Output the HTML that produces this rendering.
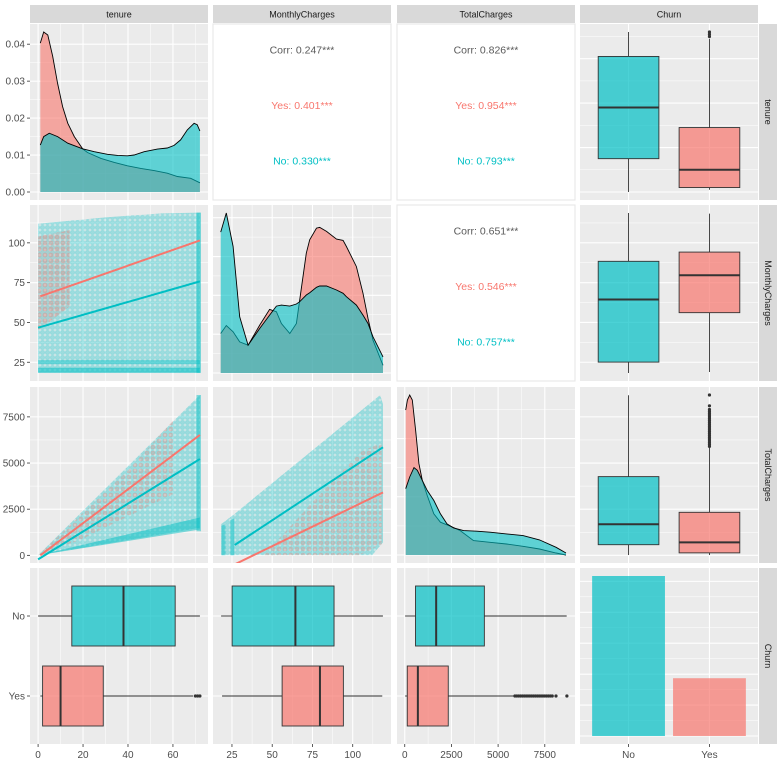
<!DOCTYPE html>
<html><head><meta charset="utf-8"><style>
html,body{margin:0;padding:0;background:#fff;}
svg{display:block;font-family:"Liberation Sans",Arial,sans-serif;}
</style></head><body>
<svg id="chart" width="783" height="765" viewBox="0 0 783 765" xmlns="http://www.w3.org/2000/svg">
<defs>
<pattern id="dotsT" width="5" height="5" patternUnits="userSpaceOnUse"><circle cx="2.5" cy="2.5" r="2" fill="#00BFC4" fill-opacity="0.22" stroke="#00BFC4" stroke-opacity="0.3" stroke-width="0.6"/></pattern>
<pattern id="dotsR" width="6" height="6" patternUnits="userSpaceOnUse"><circle cx="3" cy="3" r="2" fill="#F8766D" fill-opacity="0.25" stroke="#F8766D" stroke-opacity="0.3" stroke-width="0.6"/></pattern>
</defs>
</svg>
<script>
// ---------- data ----------
const churnLevels=['No','Yes'];
const churnCounts=[5174,1869];
const tenureRange=[0,72], monthlyRange=[18.25,118.75], totalRange=[18.8,8684.8];
const tenYesX=[1,2.5,4.3,6.5,8.7,10.9,13.2,16.1,19.8,22,28,33.9,39.8,45.7,51.6,57.5,62,67.9,72];
const tenYesD=[0.0403,0.0433,0.0425,0.0367,0.0294,0.0231,0.0186,0.0150,0.0117,0.0107,0.0091,0.0080,0.0071,0.0064,0.0058,0.0051,0.0042,0.0037,0.0025];
const tenNoX=[1,2.5,5,8.7,13.2,19.8,25,30.9,35.4,39.8,42.7,47.2,53.1,57.5,60.5,63.4,66.4,69.4,70.8,72];
const tenNoD=[0.0127,0.0150,0.0159,0.0150,0.0132,0.0117,0.0109,0.0102,0.0099,0.0098,0.0100,0.0109,0.0116,0.0119,0.0126,0.0141,0.0168,0.0186,0.0182,0.0165];
const monX=[18,21.5,25.7,29.8,35,42.2,48.4,52.6,55.7,60.9,65,67.1,71.2,73.3,77.5,79.5,83.7,89.9,94,96.1,102.3,106.4,109.5,112.6,118.8];
const monNoD=[0.0421,0.0478,0.0378,0.0168,0.0083,0.0133,0.0173,0.0200,0.0203,0.0200,0.0206,0.0213,0.0233,0.0240,0.0256,0.0260,0.0260,0.0248,0.0238,0.0228,0.0203,0.0173,0.0148,0.0108,0.0048];
const monYesD=[0.0118,0.0142,0.0123,0.0093,0.0083,0.0143,0.0190,0.0183,0.0148,0.0118,0.0148,0.0218,0.0358,0.0398,0.0433,0.0435,0.0423,0.0400,0.0396,0.0378,0.0318,0.0238,0.0163,0.0098,0.0023];
const totYesX=[53,142,265,407,584,761,938,1203,1557,1911,2442,2972,3680,4565,5450,6335,7219,8104,8634];
const totYesD=[4.33e-4,4.63e-4,4.78e-4,4.63e-4,3.73e-4,2.73e-4,2.23e-4,1.78e-4,1.23e-4,0.98e-4,0.86e-4,0.73e-4,0.43e-4,0.38e-4,0.33e-4,0.26e-4,0.18e-4,0.06e-4,0];
const totNoX=[53,265,495,672,938,1203,1557,1911,2265,2619,3149,3857,4565,5450,6335,7219,8104,8634];
const totNoD=[1.98e-4,2.33e-4,2.61e-4,2.53e-4,2.23e-4,1.93e-4,1.63e-4,1.23e-4,0.93e-4,0.81e-4,0.73e-4,0.71e-4,0.68e-4,0.63e-4,0.58e-4,0.45e-4,0.23e-4,0.06e-4];
const tenureBoxNo=[0,15,38,61,72], tenureBoxYes=[1,2,10,29,69];
const tenureOutYes=[70,71,72];
const monthlyBoxNo=[18.25,25.1,64.4,88.4,118.75], monthlyBoxYes=[18.85,56.15,79.65,94.2,118.35];
const totalBoxNo=[18.8,577,1683,4264,8672], totalBoxYes=[18.85,134,703,2331,5850];
const totalOutYes=[5900,6000,6100,6200,6300,6400,6500,6600,6700,6800,6900,7000,7100,7200,7300,7400,7500,7600,7700,7800,7900,8100,8684];
const regMonTenYes=[1,66.4,72,101.5], regMonTenNo=[0,46.7,72,75.8];
const regTotTenYes=[1,0,72,6520], regTotTenNo=[0,-217,72,5217];
const regTotMonYes=[26.7,-490,118.8,3408], regTotMonNo=[26.7,560,118.8,5853];
const corrLabels=[['Corr: 0.247***','Yes: 0.401***','No: 0.330***'],['Corr: 0.826***','Yes: 0.954***','No: 0.793***'],['Corr: 0.651***','Yes: 0.546***','No: 0.757***']];
const cloudMonTen=[[0,18.3],[72,18.3],[72,119],[55,118.5],[30,116],[0,112]];
const cloudMonTenYes=[[0,45],[14,60],[14,108],[0,104]];
const cloudTotTen=[[0,0],[72,8684],[72,1500],[0,0]];
const cloudTotTenBand=[[0,0],[72,1400],[72,2050],[0,0]];
const cloudTotTenYes=[[0,0],[40,4600],[60,7300],[60,3300],[20,900]];
const cloudTotMon=[[18.3,0],[18.3,1700],[26,2200],[117,8680],[118.8,8200],[118.8,700],[112,0]];
const cloudTotMonYes=[[45,0],[72,2600],[105,5600],[118,6100],[118,600],[104,0]];
const cloudTotMonStacks=[[18.5,0],[21,0],[21,1700],[18.5,1600]];
const cloudTotMonStacks2=[[24,0],[26.5,0],[26.5,2000],[24,1900]];

// ---------- helpers ----------
const NS='http://www.w3.org/2000/svg';
const svg=document.getElementById('chart');
function mk(tag,attrs,parent){const e=document.createElementNS(NS,tag);for(const k in attrs)e.setAttribute(k,attrs[k]);(parent||svg).appendChild(e);return e;}
function cont(a,b,p0,len,inv){const R=b-a,lo=a-0.05*R,span=1.1*R;return v=>inv?p0+len-len*(v-lo)/span:p0+len*(v-lo)/span;}
const colX=[30,213,397,580],rowY=[24,205,387,568],PW=178,PH=176;
const RED='#F8766D',TEAL='#00BFC4';
const xT=cont(0,72,30,PW), xM=cont(18.25,118.75,213,PW), xC=cont(18.8,8684.8,397,PW);
const yDen1=cont(0,0.0433,24,PH,true);
const yM2=cont(18.25,118.75,205,PH,true), yC3=cont(18.8,8684.8,387,PH,true);
const yT1=cont(0,72,24,PH,true);
const yDen2=cont(0,0.0478,205,PH,true), yDen3=cont(0,4.78e-4,387,PH,true);
const yBar=cont(0,5174,568,PH,true);
const xDisc=i=>580+PW*(i+0.6)/2.2, yDisc=i=>568+PH*(i+0.6)/2.2;
let clipId=0;
function panel(c,r,white){
  const x=colX[c],y=rowY[r];
  const bg=mk('rect',{x:x,y:y,width:PW,height:PH,fill:white?'#fff':'#ebebeb',stroke:white?'#e5e5e5':'none','stroke-width':1});
  
  
  const cp=mk('clipPath',{id:'cp'+(++clipId)});
  mk('rect',{x:x,y:y,width:PW,height:PH},cp);
  const g=mk('g',{'clip-path':'url(#cp'+clipId+')'});
  
  
  return g;
}
function vgrid(g,r,px,major){const y=rowY[r];const l=mk('line',{x1:px,x2:px,y1:y,y2:y+PH,stroke:'#fff','stroke-width':major?1.1:0.5},g);}
function hgrid(g,c,py,major){const x=colX[c];const l=mk('line',{x1:x,x2:x+PW,y1:py,y2:py,stroke:'#fff','stroke-width':major?1.1:0.5},g);}
function gridsX(g,r,sc,majors,minors){minors.forEach(v=>vgrid(g,r,sc(v),false));majors.forEach(v=>vgrid(g,r,sc(v),true));}
function gridsY(g,c,sc,majors,minors){minors.forEach(v=>hgrid(g,c,sc(v),false));majors.forEach(v=>hgrid(g,c,sc(v),true));}
const tenMaj=[0,20,40,60],tenMin=[10,30,50,70];
const monMaj=[25,50,75,100],monMin=[37.5,62.5,87.5,112.5];
const totMaj=[0,2500,5000,7500],totMin=[1250,3750,6250];
function density(g,xs,ds,sx,sy,color,name){
  const base=sy(0);
  let d='M'+sx(xs[0])+','+base;
  xs.forEach((v,i)=>{d+=' L'+sx(v).toFixed(1)+','+sy(ds[i]).toFixed(1);});
  d+=' L'+sx(xs[xs.length-1])+','+base+' Z';
  const a=mk('path',{d:d,fill:color,'fill-opacity':0.6,stroke:'none'},g);
  
  
  const pts=xs.map((v,i)=>sx(v).toFixed(1)+','+sy(ds[i]).toFixed(1)).join(' ');
  const l=mk('polyline',{points:pts,fill:'none',stroke:'#000','stroke-width':0.9},g);
  
  
}
function cloud(g,poly,sx,sy,fill,op,name){
  const pts=poly.map(p=>sx(p[0]).toFixed(1)+','+sy(p[1]).toFixed(1)).join(' ');
  const e=mk('polygon',{points:pts,fill:fill,'fill-opacity':op},g);
  
  
}
function reg(g,ln,sx,sy,color,name){
  const e=mk('line',{x1:sx(ln[0]),y1:sy(ln[1]),x2:sx(ln[2]),y2:sy(ln[3]),stroke:color,'stroke-width':2},g);
  
  
}
function vbox(g,xc,sy,st,outs,color,name){
  const hw=PW*0.375/2.2;
  const w1=mk('line',{x1:xc,x2:xc,y1:sy(st[0]),y2:sy(st[1]),stroke:'#333','stroke-width':0.9},g);
  
  const w2=mk('line',{x1:xc,x2:xc,y1:sy(st[3]),y2:sy(st[4]),stroke:'#333','stroke-width':0.9},g);
  
  const b=mk('rect',{x:xc-hw,y:sy(st[3]),width:2*hw,height:sy(st[1])-sy(st[3]),fill:color,'fill-opacity':0.7,stroke:'#333','stroke-width':0.9},g);
  
  const m=mk('line',{x1:xc-hw,x2:xc+hw,y1:sy(st[2]),y2:sy(st[2]),stroke:'#333','stroke-width':2},g);
  
  outs.forEach(v=>{const o=mk('circle',{cx:xc,cy:sy(v),r:1.6,fill:'#333'},g);});
}
function hbox(g,yc,sx,st,outs,color,name){
  const hh=PH*0.375/2.2;
  const w1=mk('line',{y1:yc,y2:yc,x1:sx(st[0]),x2:sx(st[1]),stroke:'#333','stroke-width':0.9},g);
  
  const w2=mk('line',{y1:yc,y2:yc,x1:sx(st[3]),x2:sx(st[4]),stroke:'#333','stroke-width':0.9},g);
  
  const b=mk('rect',{y:yc-hh,x:sx(st[1]),height:2*hh,width:sx(st[3])-sx(st[1]),fill:color,'fill-opacity':0.7,stroke:'#333','stroke-width':0.9},g);
  
  const m=mk('line',{y1:yc-hh,y2:yc+hh,x1:sx(st[2]),x2:sx(st[2]),stroke:'#333','stroke-width':2},g);
  
  outs.forEach(v=>{const o=mk('circle',{cy:yc,cx:sx(v),r:1.6,fill:'#333'},g);});
}
function txt(x,y,s,attrs,name){
  const a=Object.assign({x:x,y:y,'font-size':10,fill:'#4d4d4d'},attrs||{});
  const t=mk('text',a);t.textContent=s;
  
  
  return t;
}

// ---------- strips ----------
const vars=['tenure','MonthlyCharges','TotalCharges','Churn'];
vars.forEach((v,i)=>{
  const s=mk('rect',{x:colX[i],y:5,width:PW,height:18,fill:'#d9d9d9'});
  
  
  txt(colX[i]+PW/2,17.5,v,{'text-anchor':'middle','font-size':9,fill:'#1a1a1a'},'strip-label-'+v);
  const r=mk('rect',{x:759,y:rowY[i],width:18,height:PH,fill:'#d9d9d9'});
  
  
  const cy=rowY[i]+PH/2;
  txt(765,cy,v,{'text-anchor':'middle','font-size':9,fill:'#1a1a1a',transform:'rotate(90 765 '+cy+')'},'strip-right-label-'+v);
});

// ---------- row 1 ----------
let g=panel(0,0);
gridsX(g,0,xT,tenMaj,tenMin);
gridsY(g,0,yDen1,[0,0.01,0.02,0.03,0.04],[0.005,0.015,0.025,0.035]);
density(g,tenYesX,tenYesD,xT,yDen1,RED,'tenure-density-yes');
density(g,tenNoX,tenNoD,xT,yDen1,TEAL,'tenure-density-no');

const corrPos=[[0,1],[0,2],[1,2]];
const corrFrac=[0.145,0.46,0.775];
corrPos.forEach((p,k)=>{
  panel(p[1],p[0],true);
  const cx=colX[p[1]]+PW/2;
  const cols=['#595959',RED,TEAL];
  corrLabels[k].forEach((s,j)=>txt(cx,rowY[p[0]]+PH*corrFrac[j]+4,s,{'text-anchor':'middle','font-size':10.5,fill:cols[j]},'corr-text-'+['overall','yes','no'][j]));
});

g=panel(3,0);
gridsY(g,3,yT1,[0,20,40,60],[10,30,50,70]);
[0,1].forEach(i=>vgrid(g,0,xDisc(i),true));
vbox(g,xDisc(0),yT1,tenureBoxNo,[],TEAL,'tenure-box-no');
vbox(g,xDisc(1),yT1,tenureBoxYes,tenureOutYes,RED,'tenure-box-yes');

// ---------- row 2 ----------
g=panel(0,1);
gridsX(g,1,xT,tenMaj,tenMin);
gridsY(g,0,yM2,monMaj,monMin);
cloud(g,cloudMonTen,xT,yM2,'url(#dotsT)',1,'scatter-cloud-no');
cloud(g,cloudMonTen,xT,yM2,TEAL,0.14,'scatter-tint-no');
cloud(g,cloudMonTenYes,xT,yM2,'url(#dotsR)',1,'scatter-cloud-yes');
cloud(g,cloudMonTenYes,xT,yM2,RED,0.12,'scatter-tint-yes');
cloud(g,[[0,18.5],[72,18.5],[72,21.5],[0,21.5]],xT,yM2,TEAL,0.55,'scatter-band-20');
cloud(g,[[0,23.8],[72,23.8],[72,26.5],[0,26.5]],xT,yM2,TEAL,0.4,'scatter-band-25');
cloud(g,[[70.5,18.3],[72.5,18.3],[72.5,119],[70.5,119]],xT,yM2,TEAL,0.5,'scatter-edge-72');
reg(g,regMonTenYes,xT,yM2,RED,'regression-yes');
reg(g,regMonTenNo,xT,yM2,TEAL,'regression-no');

g=panel(1,1);
gridsX(g,1,xM,monMaj,monMin);
gridsY(g,1,yDen2,[0,0.0116,0.0232,0.0348,0.0464],[0.0058,0.0174,0.029,0.0406]);
density(g,monX,monYesD,xM,yDen2,RED,'monthly-density-yes');
density(g,monX,monNoD,xM,yDen2,TEAL,'monthly-density-no');

g=panel(3,1);
gridsY(g,3,yM2,monMaj,monMin);
[0,1].forEach(i=>vgrid(g,1,xDisc(i),true));
vbox(g,xDisc(0),yM2,monthlyBoxNo,[],TEAL,'monthly-box-no');
vbox(g,xDisc(1),yM2,monthlyBoxYes,[],RED,'monthly-box-yes');

// ---------- row 3 ----------
g=panel(0,2);
gridsX(g,2,xT,tenMaj,tenMin);
gridsY(g,0,yC3,totMaj,totMin);
cloud(g,cloudTotTen,xT,yC3,'url(#dotsT)',1,'scatter-cloud-no');
cloud(g,cloudTotTen,xT,yC3,TEAL,0.15,'scatter-tint-no');
cloud(g,cloudTotTenYes,xT,yC3,'url(#dotsR)',1,'scatter-cloud-yes');
cloud(g,cloudTotTenBand,xT,yC3,TEAL,0.5,'scatter-band-low');
cloud(g,[[70.5,1300],[72.5,1300],[72.5,8684],[70.5,8684]],xT,yC3,TEAL,0.45,'scatter-edge-72');
reg(g,regTotTenYes,xT,yC3,RED,'regression-yes');
reg(g,regTotTenNo,xT,yC3,TEAL,'regression-no');

g=panel(1,2);
gridsX(g,2,xM,monMaj,monMin);
gridsY(g,1,yC3,totMaj,totMin);
cloud(g,cloudTotMon,xM,yC3,'url(#dotsT)',1,'scatter-cloud-no');
cloud(g,cloudTotMon,xM,yC3,TEAL,0.15,'scatter-tint-no');
cloud(g,cloudTotMonYes,xM,yC3,'url(#dotsR)',1,'scatter-cloud-yes');
cloud(g,cloudTotMonStacks,xM,yC3,TEAL,0.45,'scatter-stack-20');
cloud(g,cloudTotMonStacks2,xM,yC3,TEAL,0.45,'scatter-stack-25');
reg(g,regTotMonYes,xM,yC3,RED,'regression-yes');
reg(g,regTotMonNo,xM,yC3,TEAL,'regression-no');

g=panel(2,2);
gridsX(g,2,xC,totMaj,totMin);
gridsY(g,2,yDen3,[0,1.74e-4,3.48e-4],[0.87e-4,2.61e-4,4.35e-4]);
density(g,totYesX,totYesD,xC,yDen3,RED,'total-density-yes');
density(g,totNoX,totNoD,xC,yDen3,TEAL,'total-density-no');

g=panel(3,2);
gridsY(g,3,yC3,totMaj,totMin);
[0,1].forEach(i=>vgrid(g,2,xDisc(i),true));
vbox(g,xDisc(0),yC3,totalBoxNo,[],TEAL,'total-box-no');
vbox(g,xDisc(1),yC3,totalBoxYes,totalOutYes,RED,'total-box-yes');

// ---------- row 4 ----------
g=panel(0,3);
gridsX(g,3,xT,tenMaj,tenMin);
[0,1].forEach(i=>hgrid(g,0,yDisc(i),true));
hbox(g,yDisc(0),xT,tenureBoxNo,[],TEAL,'tenure-hbox-no');
hbox(g,yDisc(1),xT,tenureBoxYes,tenureOutYes,RED,'tenure-hbox-yes');

g=panel(1,3);
gridsX(g,3,xM,monMaj,monMin);
[0,1].forEach(i=>hgrid(g,1,yDisc(i),true));
hbox(g,yDisc(0),xM,monthlyBoxNo,[],TEAL,'monthly-hbox-no');
hbox(g,yDisc(1),xM,monthlyBoxYes,[],RED,'monthly-hbox-yes');

g=panel(2,3);
gridsX(g,3,xC,totMaj,totMin);
[0,1].forEach(i=>hgrid(g,2,yDisc(i),true));
hbox(g,yDisc(0),xC,totalBoxNo,[],TEAL,'total-hbox-no');
hbox(g,yDisc(1),xC,totalBoxYes,totalOutYes,RED,'total-hbox-yes');

g=panel(3,3);
gridsY(g,3,yBar,[0,1000,2000,3000,4000,5000],[500,1500,2500,3500,4500]);
[0,1].forEach(i=>vgrid(g,3,xDisc(i),true));
churnCounts.forEach((n,i)=>{
  const bw=PW*0.9/2.2;
  const b=mk('rect',{x:xDisc(i)-bw/2,y:yBar(n),width:bw,height:yBar(0)-yBar(n),fill:i===0?TEAL:RED,'fill-opacity':0.7},g);
  
  
});

// ---------- axes ----------
function ytick(y,label,name){
  const t=mk('line',{x1:27,x2:30,y1:y,y2:y,stroke:'#333','stroke-width':0.8});
  
  txt(25,y+3.5,label,{'text-anchor':'end'},name);
}
function xtick(x,label,name){
  const t=mk('line',{x1:x,x2:x,y1:744,y2:747,stroke:'#333','stroke-width':0.8});
  
  txt(x,758,label,{'text-anchor':'middle'},name);
}
const denTicks=[0,0.01,0.02,0.03,0.04];
denTicks.forEach(v=>ytick(yDen1(v),v.toFixed(2),'y-tick-label-density'));
monMaj.forEach(v=>ytick(yM2(v),String(v),'y-tick-label-monthly'));
totMaj.forEach(v=>ytick(yC3(v),String(v),'y-tick-label-total'));
churnLevels.forEach((s,i)=>ytick(yDisc(i),s,'y-tick-label-churn'));
tenMaj.forEach(v=>xtick(xT(v),String(v),'x-tick-label-tenure'));
monMaj.forEach(v=>xtick(xM(v),String(v),'x-tick-label-monthly'));
totMaj.forEach(v=>xtick(xC(v),String(v),'x-tick-label-total'));
churnLevels.forEach((s,i)=>xtick(xDisc(i),s,'x-tick-label-churn'));
</script>
</body></html>
